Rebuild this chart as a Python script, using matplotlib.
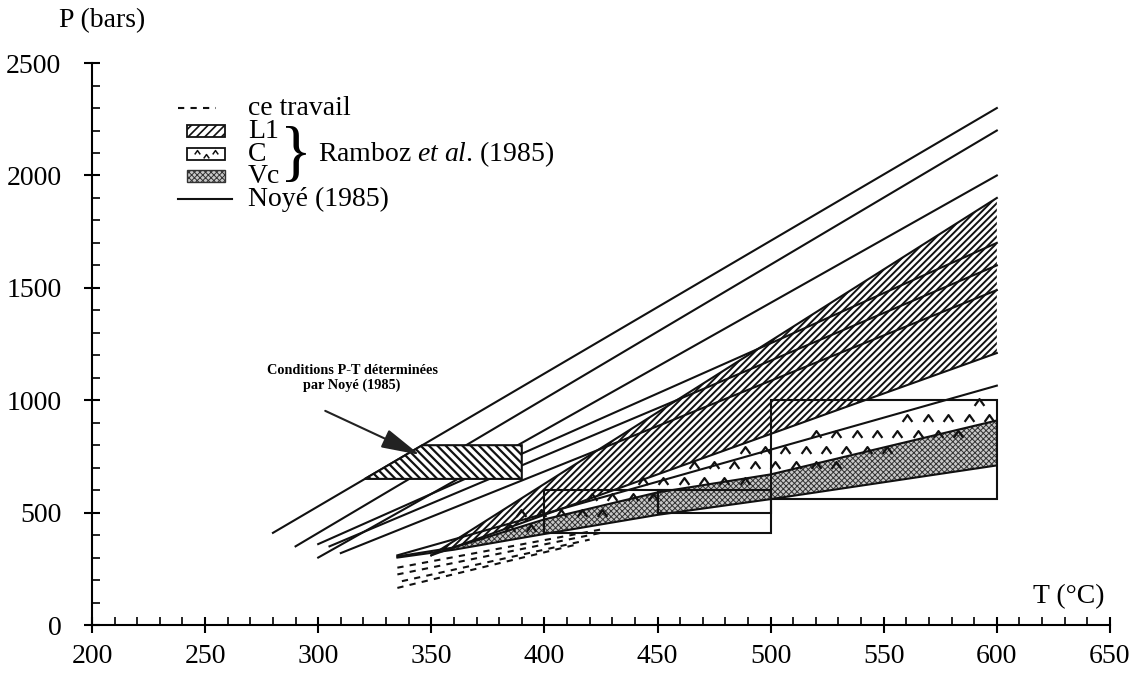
import matplotlib
matplotlib.use('Agg')
import matplotlib.pyplot as plt
import numpy as np
from matplotlib.path import Path
from matplotlib.patches import Rectangle
from matplotlib.ticker import MultipleLocator

plt.rcParams.update({
    'font.family': ['Liberation Serif', 'DejaVu Serif'],
    'font.size': 20,
    'hatch.linewidth': 1.5,
    'mathtext.fontset': 'custom',
    'mathtext.rm': 'Liberation Serif',
    'mathtext.it': 'Liberation Serif:italic',
})

# Noyé (1985) isochores: start / end points (T in °C, P in bars)
noye_T0 = [280, 290, 300, 300, 305, 310]
noye_P0 = [410, 350, 300, 360, 350, 320]
noye_T1 = [600, 600, 600, 600, 600, 600]
noye_P1 = [2300, 2200, 2000, 1700, 1600, 1490]

# Ramboz et al. (1985): L1 field (triangle)
l1_T = [350, 600, 600]
l1_P = [310, 1900, 1210]

# Vc field (lower / upper bounds)
vc_T = [335, 360, 400, 450, 500, 600]
vc_lo = [300, 335, 405, 490, 560, 710]
vc_hi = [305, 345, 470, 590, 670, 910]

# C field: upper bound (lower bound is the Vc upper bound)
c_T = [335, 600]
c_hi = [310, 1065]
c_cap = 990

# L1 block near the Noyé P-T conditions (left side bounded by first isochore)
blk_P = [650, 800]
blk_Tmax = 390

# ce travail (dashed)
ct_T0 = [335, 335, 337, 335]
ct_P0 = [255, 225, 195, 165]
ct_T1 = [425, 425, 420, 415]
ct_P1 = [425, 410, 380, 360]

# rectangles
box_T = [(400, 500), (450, 500), (500, 600)]
box_P = [(410, 600), (500, 600), (560, 1000)]

INK = '#111111'
LW = 1.5

caret = Path([(-1, -0.7), (0, 0.7), (1, -0.7)],
             [Path.MOVETO, Path.LINETO, Path.LINETO])


def hatch_lw(artist, lw):
    if hasattr(artist, 'set_hatch_linewidth'):
        artist.set_hatch_linewidth(lw)


fig = plt.figure(figsize=(11.37, 6.77), dpi=100)
ax = fig.add_axes([0.0809, 0.0768, 0.8953, 0.830])

# ---- L1 field
poly = ax.fill(l1_T, l1_P, facecolor='none', edgecolor=INK, hatch='/////',
               linewidth=0, zorder=1)[0]
hatch_lw(poly, 1.4)
ax.plot([l1_T[0], l1_T[1]], [l1_P[0], l1_P[1]], color=INK, lw=LW, zorder=2)
ax.plot([l1_T[0], l1_T[2]], [l1_P[0], l1_P[2]], color=INK, lw=LW, zorder=2)

# ---- Vc field
vc = ax.fill_between(vc_T, vc_lo, vc_hi, facecolor='#c8c8c8',
                     edgecolor='#333333', hatch='xxxxxx', linewidth=0, zorder=1)
hatch_lw(vc, 0.7)
ax.plot(vc_T, vc_lo, color=INK, lw=LW, zorder=2)
ax.plot(vc_T, vc_hi, color=INK, lw=LW, zorder=2)

# ---- C field: caret pattern between Vc top and C top
ax.plot(c_T, c_hi, color=INK, lw=LW, zorder=2)
top_at = np.interp(vc_T, c_T, c_hi)
c_poly = Path(np.column_stack([np.r_[vc_T, vc_T[::-1]],
                               np.r_[np.minimum(top_at, c_cap),
                                     np.array(vc_hi)[::-1]]]))
gx, gy = [], []
for j, p in enumerate(np.arange(430, 1000, 70)):
    off = 4.5 if j % 2 else 0
    for t in np.arange(385 + off, 600, 9.0):
        gx.append(t)
        gy.append(p)
pts = np.column_stack([gx, gy])
inside = c_poly.contains_points(pts, radius=-25)
ax.plot(pts[inside, 0], pts[inside, 1], linestyle='none', marker=caret,
        markersize=7, mfc='none', mec=INK, mew=1.6, zorder=2)

# ---- Noyé isochores
for t0, p0, t1, p1 in zip(noye_T0, noye_P0, noye_T1, noye_P1):
    ax.plot([t0, t1], [p0, p1], color=INK, lw=LW, zorder=2)

# ---- L1 block over the isochores
a_slope = (noye_P1[0] - noye_P0[0]) / (noye_T1[0] - noye_T0[0])
t_lo = noye_T0[0] + (blk_P[0] - noye_P0[0]) / a_slope
t_hi = noye_T0[0] + (blk_P[1] - noye_P0[0]) / a_slope
blk = ax.fill([t_lo, t_hi, blk_Tmax, blk_Tmax], [blk_P[0], blk_P[1], blk_P[1], blk_P[0]],
              facecolor='white', edgecolor=INK, hatch='\\\\\\\\', linewidth=LW, zorder=3)[0]
hatch_lw(blk, 1.6)

# ---- ce travail
for t0, p0, t1, p1 in zip(ct_T0, ct_P0, ct_T1, ct_P1):
    ax.plot([t0, t1], [p0, p1], color=INK, lw=LW, ls=(0, (3, 3)), zorder=2)

# ---- rectangles
for (ta, tb), (pa, pb) in zip(box_T, box_P):
    ax.add_patch(Rectangle((ta, pa), tb - ta, pb - pa, fill=False,
                           edgecolor=INK, lw=LW, zorder=4))

# ---- annotation
ax.annotate('', xy=(346, 752), xytext=(302, 958),
            arrowprops=dict(arrowstyle='-|>,head_length=1.2,head_width=0.3',
                            color='#222222', lw=1.5), zorder=5)
ax.text(315, 1100, 'Conditions P-T déterminées\npar Noyé (1985)',
        ha='center', va='center', fontsize=10.3, fontweight='bold',
        linespacing=1.15)

# ---- legend (drawn by hand)
rows = [2300, 2197, 2095, 1997, 1895]
labels = ['ce travail', 'L1', 'C', 'Vc', 'Noyé (1985)']
for p, lab in zip(rows, labels):
    ax.text(269, p, lab, ha='left', va='center', fontsize=20)
ax.plot([238, 255], [rows[0], rows[0]], color=INK, lw=LW, ls=(0, (3, 3)))
ax.plot([238, 262], [rows[4], rows[4]], color=INK, lw=LW)
w, h = 17, 52
r1 = Rectangle((242, rows[1] - h / 2), w, h, facecolor='white', edgecolor=INK,
               hatch='////', lw=1.3)
ax.add_patch(r1)
hatch_lw(r1, 1.2)
ax.add_patch(Rectangle((242, rows[2] - h / 2), w, h, facecolor='white',
                       edgecolor=INK, lw=1.3))
ax.plot([246.5, 250.5, 254.5], [rows[2] + 10, rows[2] - 8, rows[2] + 10],
        linestyle='none', marker=caret, markersize=4, mfc='none', mec=INK, mew=1.1)
r3 = Rectangle((242, rows[3] - h / 2), w, h, facecolor='#c8c8c8',
               edgecolor='#333333', hatch='xxxxxx', lw=1.0)
ax.add_patch(r3)
hatch_lw(r3, 0.7)
ax.text(290, 2085, '}', ha='center', va='center', fontsize=48)
ax.text(300, rows[2], r'Ramboz $\it{et\ al}$. (1985)', ha='left', va='center', fontsize=20)

# ---- axes
ax.set_xlim(200, 650)
ax.set_ylim(0, 2500)
for s in ['top', 'right']:
    ax.spines[s].set_visible(False)
for s in ['left', 'bottom']:
    ax.spines[s].set_linewidth(1.5)
ax.xaxis.set_major_locator(MultipleLocator(50))
ax.xaxis.set_minor_locator(MultipleLocator(10))
ax.yaxis.set_major_locator(MultipleLocator(500))
ax.yaxis.set_minor_locator(MultipleLocator(100))
ax.tick_params(which='major', direction='inout', length=12, width=1.5, labelsize=20)
ax.tick_params(which='minor', direction='in', length=6, width=1.2)
ax.tick_params(axis='x', which='major', pad=8)
ax.tick_params(axis='y', which='major', pad=16)

fig.text(0.0897, 0.970, 'P (bars)', ha='center', va='center', fontsize=20)
ax.text(632, 125, 'T (°C)', ha='center', va='center', fontsize=20)

fig.savefig('out.png', dpi=100)
